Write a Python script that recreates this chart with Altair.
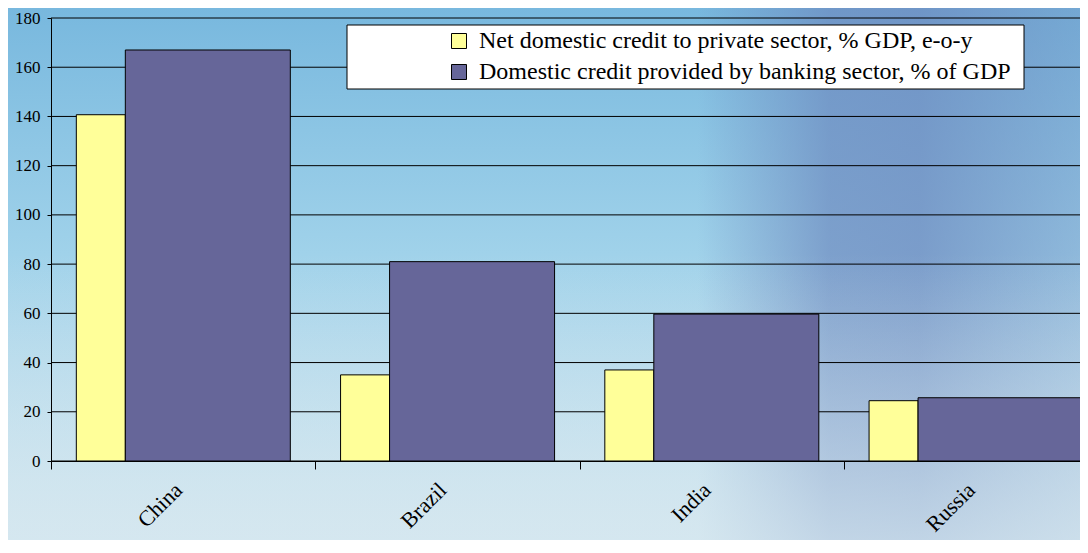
import altair as alt
import pandas as pd

# ---- data ----
countries = ["China", "Brazil", "India", "Russia"]
series_names = [
    "Net domestic credit to private sector, % GDP, e-o-y",
    "Domestic credit provided by banking sector, % of GDP",
]
net_private = [140.7, 35.0, 37.0, 24.5]
banking = [167.0, 81.0, 59.7, 25.7]
y_ticks = [0, 20, 40, 60, 80, 100, 120, 140, 160, 180]
colors = ["#FFFF99", "#666699"]

rows = []
for c, a, b in zip(countries, net_private, banking):
    rows.append({"country": c, "series": series_names[0], "value": a})
    rows.append({"country": c, "series": series_names[1], "value": b})
df = pd.DataFrame(rows)
grid_df = pd.DataFrame({"tick": y_ticks})
one = pd.DataFrame({"k": [0]})

W, H = 1029, 443
FONT = "Liberation Serif"

x_scale = alt.Scale(domain=countries, range=[0, 1057], paddingInner=0, paddingOuter=0)
y_scale = alt.Scale(domain=[0, 180], nice=False)
color_scale = alt.Scale(domain=series_names, range=colors)

x_axis = alt.Axis(
    title=None, tickBand="extent", tickSize=8, tickColor="black", domainColor="black",
    labelAngle=-45, labelAlign="right", labelBaseline="alphabetic", labelPadding=22,
    labelFont=FONT, labelFontSize=22, labelColor="black", labelLimit=0, grid=False, zindex=1,
)
y_axis = alt.Axis(
    values=y_ticks, title=None, grid=False, tickSize=4, tickColor="black", domainColor="black",
    labelFont=FONT, labelFontSize=17, labelColor="black", labelPadding=7, format="d", zindex=1,
)
legend = alt.Legend(
    title=None, orient="none", legendX=396, legendY=11, symbolType="square", symbolSize=225,
    symbolStrokeColor="black", symbolStrokeWidth=1, symbolOpacity=1, labelFont=FONT,
    labelFontSize=24, labelColor="black", rowPadding=7, labelOffset=8, padding=0, labelLimit=0,
)

# ---- decorative background (pixel geometry, not data) ----
bg_base = alt.Chart(one).mark_rect(
    fill={
        "gradient": "linear", "x1": 0, "y1": 0, "x2": 0, "y2": 1,
        "stops": [
            {"offset": 0, "color": "#78b8de"},
            {"offset": 0.45, "color": "#a0d2ea"},
            {"offset": 1, "color": "#d2e6ef"},
        ],
    }
).encode(x=alt.value(-43), x2=alt.value(1040), y=alt.value(-10), y2=alt.value(535))

bg_tint = alt.Chart(one).mark_rect(
    fill={
        "gradient": "linear", "x1": 0, "y1": 0, "x2": 1, "y2": 0,
        "stops": [
            {"offset": 0, "color": "rgba(108,136,190,0)"},
            {"offset": 0.26, "color": "rgba(108,136,190,0)"},
            {"offset": 0.51, "color": "rgba(108,136,190,0.68)"},
            {"offset": 0.68, "color": "rgba(108,136,190,0.72)"},
            {"offset": 0.85, "color": "rgba(108,136,190,0.5)"},
            {"offset": 1, "color": "rgba(108,136,190,0.32)"},
        ],
    }
).encode(x=alt.value(509), x2=alt.value(1037), y=alt.value(-10), y2=alt.value(535))

bg_light = alt.Chart(one).mark_rect(
    fill={
        "gradient": "linear", "x1": 0, "y1": 0, "x2": 0, "y2": 1,
        "stops": [
            {"offset": 0, "color": "rgba(215,232,240,0)"},
            {"offset": 0.45, "color": "rgba(215,232,240,0)"},
            {"offset": 1, "color": "rgba(215,232,240,0.75)"},
        ],
    }
).encode(x=alt.value(-43), x2=alt.value(1040), y=alt.value(-10), y2=alt.value(535))

grid = alt.Chart(grid_df).mark_rule(color="black", strokeWidth=1).encode(
    y=alt.Y("tick:Q", scale=y_scale, axis=y_axis)
)

legend_box = alt.Chart(one).mark_rect(fill="white", stroke="black", strokeWidth=1).encode(
    x=alt.value(296), x2=alt.value(973), y=alt.value(7), y2=alt.value(71)
)

base = alt.Chart(df).encode(
    x=alt.X("country:N", scale=x_scale, sort=countries, axis=x_axis),
    y=alt.Y("value:Q", scale=y_scale, axis=y_axis),
    color=alt.Color("series:N", scale=color_scale, legend=legend, sort=series_names),
)

bars_yellow = base.transform_filter(alt.datum.series == series_names[0]).mark_bar(
    width=49, xOffset=-82.3, stroke="black", strokeWidth=1, opacity=1
)
bars_purple = base.transform_filter(alt.datum.series == series_names[1]).mark_bar(
    width=165, xOffset=24.7, stroke="black", strokeWidth=1, opacity=1
)

chart = alt.layer(
    bg_base, bg_tint, bg_light, grid, legend_box, bars_yellow, bars_purple
).properties(
    width=W, height=H,
    padding={"left": 43, "top": 10, "right": 0, "bottom": 79},
    autosize=alt.AutoSizeParams(type="none"),
    background="#a6d2ea",
).configure_view(stroke=None)

chart.save("out.html", embed_options={"renderer": "svg", "actions": False})
